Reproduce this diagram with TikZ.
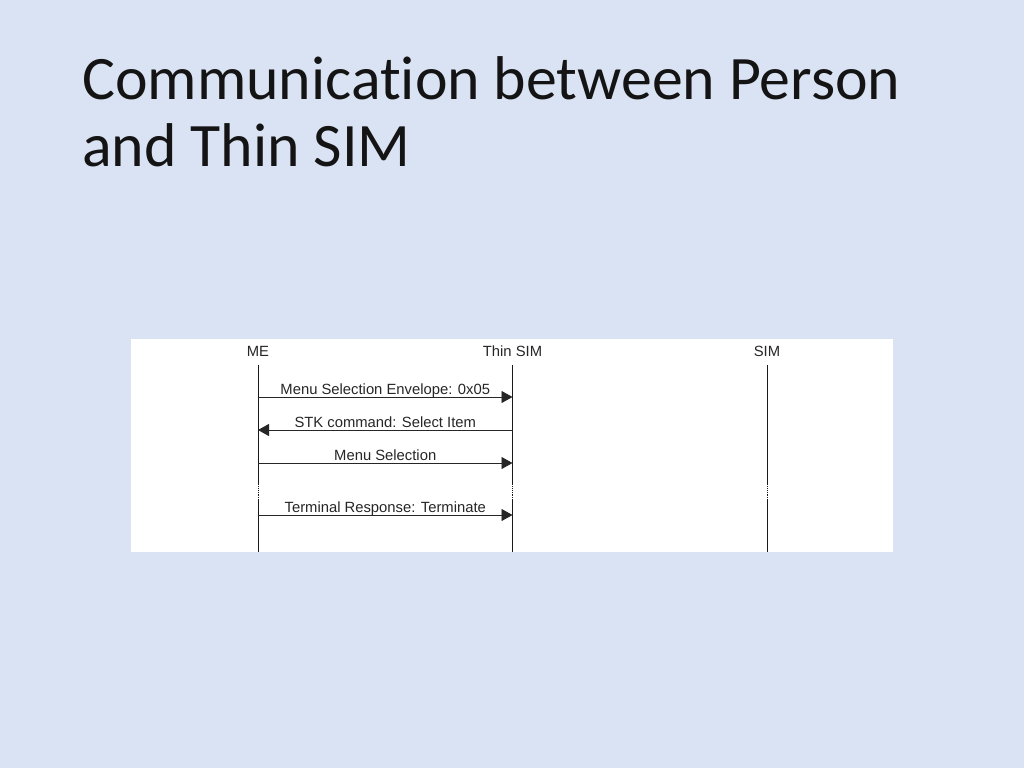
\documentclass[tikz,border=0pt]{standalone}
\usepackage{fontspec}
\setmainfont{Carlito}[Ligatures=NoCommon]
\newfontfamily\diagfont{Liberation Sans}
\usetikzlibrary{arrows.meta,positioning}
\definecolor{slideblue}{RGB}{218,227,243}
\tikzstyle{title}=[anchor=base west, inner sep=0pt, text=black!92,
  font=\fontsize{61.8}{67}\selectfont]
\tikzstyle{head}=[anchor=base, inner sep=0pt, text=black!85,
  font=\diagfont\fontsize{14.8}{17}\selectfont]
\tikzstyle{msglabel}=[head, midway, yshift=2.5pt]
\tikzstyle{life}=[line width=.9pt, black!90]
\tikzstyle{msg}=[-{Triangle[length=11pt,width=12pt]}, line width=.9pt, black!85]

\begin{document}
\begin{tikzpicture}[x=1pt, y=-1pt, node distance=254.5pt, on grid]
  \fill[slideblue] (0,0) rectangle (1024,768);
  \useasboundingbox (0,0) rectangle (1024,768);

  \node[title] (title1) at (82,99) {Communication between Person};
  \node[title] (title2) at (82,166) {and Thin SIM};

  \fill[white] (131,339) rectangle (893,552);

  \node[head] (me) at (258,356) {ME};
  \node[head, right=of me] (thin) {Thin SIM};
  \node[head, right=of thin] (sim) {SIM};

  % points on the lifelines
  \foreach \p in {me,thin,sim} {
    \foreach \r/\y in {top/365,a/397,b/430,c/463,gapa/484,gapb/500,d/515,bot/552}
      \coordinate (\p-\r) at (\p |- 0,\y);
    \draw[life] (\p-top) -- (\p-gapa);
    \draw[life, densely dotted] (\p-gapa) -- (\p-gapb);
    \draw[life] (\p-gapb) -- (\p-bot);
  }

  \draw[msg] (me-a) -- node[msglabel] {Menu Selection Envelope: 0x05} (thin-a);
  \draw[msg] (thin-b) -- node[msglabel] {STK command: Select Item} (me-b);
  \draw[msg] (me-c) -- node[msglabel] {Menu Selection} (thin-c);
  \draw[msg] (me-d) -- node[msglabel] {Terminal Response: Terminate} (thin-d);
\end{tikzpicture}
\end{document}
